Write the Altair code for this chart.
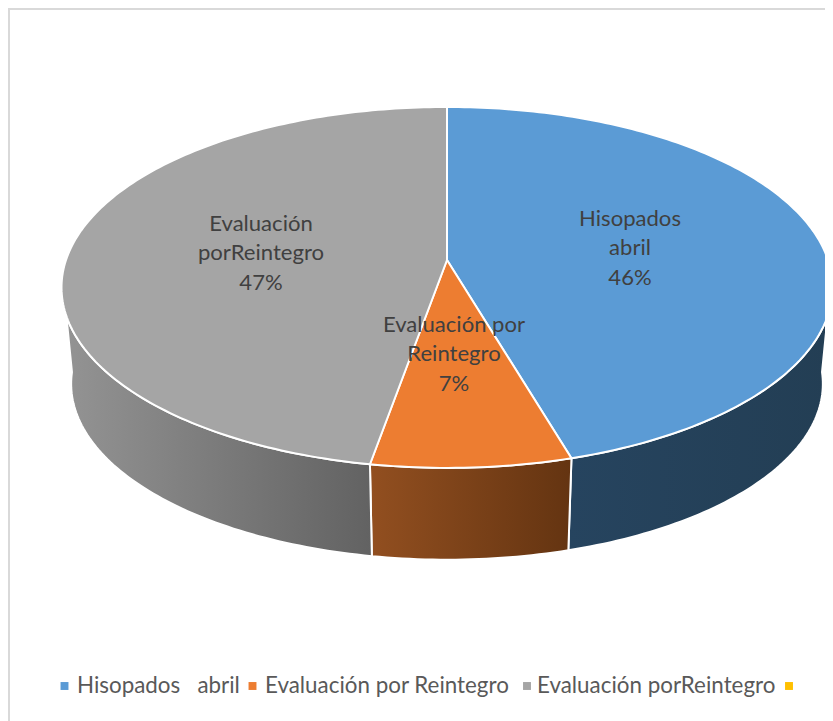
import math
import altair as alt

# --- values
categories = ["Hisopados \u00a0 abril", "Evaluación por Reintegro", "Evaluación porReintegro", ""]
shares = [45.5, 7.25, 47.25]
slice_label_names = ["Hisopados\nabril", "Evaluación por\nReintegro", "Evaluación\nporReintegro"]
colors = ["#5B9BD5", "#ED7D31", "#A5A5A5", "#FFC000"]

# --- layout and view parameters (not data)
W, H = 825, 713
OX, OY = 8, 8
# the page fits the 825 wide drawing into 817 px and centres it vertically
FIT = 817 / W
OY_FIT = OY + (H - H * FIT) / 2
APEX = (447, 260)
RX = 381
RY_RATIO = 176.3 / 381
PERSP = 0.152
WALL_SCALE = 0.975
WALL_DROP = 97 / 381
FONT = "Lato"

wall_stops = [
    [("#26445F", 0), ("#233E54", 1)],
    [("#924F20", 0), ("#643411", 1)],
    [("#949494", 0), ("#626262", 1)],
]
wall_visible = [(95, None), (None, None), (None, 265)]
label_first_line = [(630, 219), (454, 325), (261, 224)]
legend_sq_x = [64.5, 252.5, 527, 789]
legend_tx_x = [77, 265, 537]
LEGEND_Y = 686


def px(x):
    return (x - OX) / FIT


def py(y):
    return (y - OY_FIT) / FIT


def rim(angle_deg, scale=1.0, drop=0.0):
    a = math.radians(angle_deg)
    u, v = math.sin(a), -math.cos(a)
    w = 1 - PERSP * v
    return [scale * u / w, scale * RY_RATIO * v / w + drop]


def polygon(ring, name):
    return {"type": "Feature", "properties": {"name": name},
            "geometry": {"type": "Polygon", "coordinates": [ring + [ring[0]]]}}


def sweep(a0, a1, **kw):
    n = max(2, int(abs(a1 - a0) / 1.0))
    return [rim(a0 + (a1 - a0) * i / n, **kw) for i in range(n + 1)]


total = sum(shares)
edges = [0]
for s in shares:
    edges.append(edges[-1] + 360 * s / total)

project_kw = dict(type="identity", scale=RX / FIT, translate=[px(APEX[0]), py(APEX[1])])


def geo_data(features):
    return alt.InlineData(values={"type": "FeatureCollection", "features": features},
                          format=alt.DataFormat(property="features", type="json"))


layers = []

# frame lines
layers.append(alt.Chart(alt.Data(values=[{"k": 0}])).mark_rule(color="#D9D9D9", strokeWidth=2).encode(
    x=alt.value(0), x2=alt.value(W), y=alt.value(py(9))))
layers.append(alt.Chart(alt.Data(values=[{"k": 0}])).mark_rule(color="#D9D9D9", strokeWidth=2).encode(
    x=alt.value(1), y=alt.value(py(8)), y2=alt.value(py(721))))

# side walls
for i, (a0, a1) in enumerate(zip(edges[:-1], edges[1:])):
    lo, hi = wall_visible[i]
    a0v = a0 if lo is None else lo
    a1v = a1 if hi is None else hi
    ring = sweep(a0v, a1v) + sweep(a1v, a0v, scale=WALL_SCALE, drop=WALL_DROP)
    grad = alt.Gradient(
        gradient="linear", x1=0, y1=0, x2=1, y2=0,
        stops=[alt.GradientStop(color=c, offset=o) for c, o in wall_stops[i]],
    )
    layers.append(
        alt.Chart(geo_data([polygon(ring, categories[i])]))
        .mark_geoshape(fill=grad, stroke="white", strokeWidth=2, strokeJoin="round")
        .project(**project_kw)
    )

# top face
top = []
for i, (a0, a1) in enumerate(zip(edges[:-1], edges[1:])):
    top.append(polygon([[0, 0]] + sweep(a0, a1), categories[i]))
layers.append(
    alt.Chart(geo_data(top))
    .mark_geoshape(stroke="white", strokeWidth=2, strokeJoin="round")
    .encode(color=alt.Color("properties.name:N",
                            scale=alt.Scale(domain=categories[:3], range=colors[:3]), legend=None))
    .project(**project_kw)
)

# slice labels
for name, s, (lx, ly) in zip(slice_label_names, shares, label_first_line):
    text = name + f"\n{round(s + 0.01)}%"
    layers.append(
        alt.Chart(alt.Data(values=[{"t": text}]))
        .mark_text(font=FONT, fontSize=22.3, color="#404040", lineBreak="\n", lineHeight=29.8,
                   align="center", baseline="middle")
        .encode(text="t:N", x=alt.value(px(lx)), y=alt.value(py(ly)))
    )

# legend
for i, c in enumerate(colors):
    layers.append(
        alt.Chart(alt.Data(values=[{"n": categories[i]}]))
        .mark_square(size=64, color=c, opacity=1, filled=True)
        .encode(x=alt.value(px(legend_sq_x[i])), y=alt.value(py(LEGEND_Y)))
    )
for i, tx in enumerate(legend_tx_x):
    layers.append(
        alt.Chart(alt.Data(values=[{"n": categories[i]}]))
        .mark_text(font=FONT, fontSize=22.6, color="#595959", align="left", baseline="middle")
        .encode(text="n:N", x=alt.value(px(tx)), y=alt.value(py(LEGEND_Y)))
    )

chart = (
    alt.layer(*layers)
    .properties(width=W, height=H, padding=0, background="white", autosize=alt.AutoSizeParams(type="none"))
    .configure_view(stroke=None)
)
chart.save("out.html", embed_options={"renderer": "svg", "actions": False})
